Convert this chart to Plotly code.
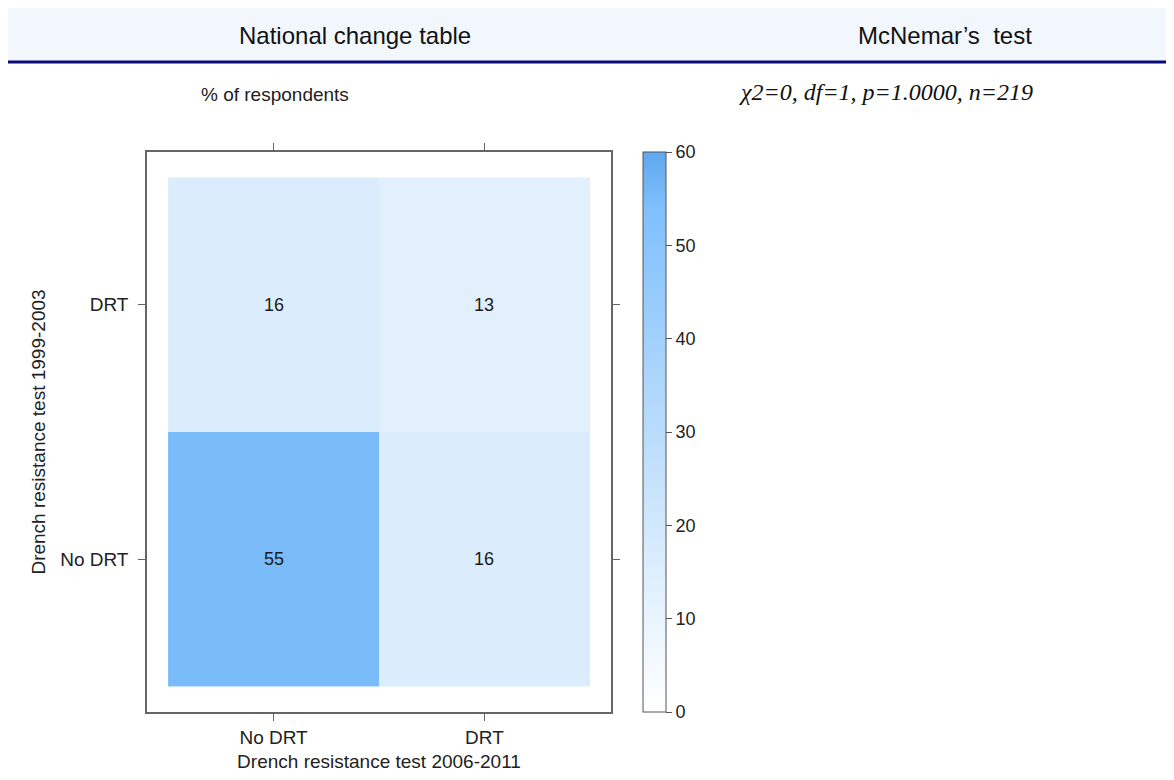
import plotly.graph_objects as go

# ---- data ----
x_categories = ["No DRT", "DRT"]          # Drench resistance test 2006-2011
y_categories = ["No DRT", "DRT"]          # Drench resistance test 1999-2003
pct_values = [[55, 16],                    # row: No DRT (1999-2003)
              [16, 13]]                    # row: DRT (1999-2003)
colorbar_ticks = [0, 10, 20, 30, 40, 50, 60]
header_left = "National change table"
header_right = "McNemar’s  test"
subtitle = "% of respondents"
stats_text = "χ2=0, df=1, p=1.0000, n=219"
x_title = "Drench resistance test 2006-2011"
y_title = "Drench resistance test 1999-2003"

# page has an 8px body margin, so the figure is sized to fit the window
OFF = 8
W, H = 1174 - 2 * OFF, 780 - 2 * OFF
# plot area in page pixels
PL, PR, PT, PB = 147, 611, 152, 712
L, R, T, B = PL - OFF, PR - OFF, PT - OFF, PB - OFF


def px(xp):
    return (xp - OFF - L) / (R - L)


def py(yp):
    return (B - (yp - OFF)) / (B - T)


FONT = "Liberation Sans, Arial, sans-serif"

fig = go.Figure()
fig.add_trace(go.Heatmap(
    z=pct_values, x=x_categories, y=y_categories,
    zmin=0, zmax=60,
    colorscale=[[0, "#FFFFFF"], [0.25, "#DDEEFD"], [0.9, "#80C0FC"], [1, "#5EA8EE"]],
    texttemplate="%{z}", textfont=dict(size=18, color="#1a1a1a", family=FONT),
    xgap=0, ygap=0, hoverinfo="skip",
    colorbar=dict(
        x=px(643), xanchor="left", xref="paper", xpad=0, ypad=0,
        y=py((PT + PB) / 2), yanchor="middle", len=PB - PT, lenmode="pixels",
        thickness=23, thicknessmode="pixels",
        outlinewidth=1, outlinecolor="#555",
        tickvals=colorbar_ticks, ticks="outside", ticklen=6, tickcolor="#555",
        tickfont=dict(size=18, color="#222", family=FONT),
    ),
))

axis_common = dict(
    showline=True, linecolor="#666", linewidth=1.5, mirror="ticks",
    ticks="outside", ticklen=7, tickcolor="#666", showgrid=False, zeroline=False,
    tickfont=dict(size=19, color="#222", family=FONT),
    range=[-0.6, 1.6], fixedrange=True,
)
fig.update_xaxes(type="category", categoryorder="array", categoryarray=x_categories,
                 ticklabelstandoff=0,
                 title=dict(text=x_title, standoff=14,
                            font=dict(size=19, color="#222", family=FONT)),
                 **axis_common)
fig.update_yaxes(type="category", categoryorder="array", categoryarray=y_categories,
                 ticklabelstandoff=6,
                 title=dict(text=y_title, standoff=10,
                            font=dict(size=19, color="#222", family=FONT)),
                 **axis_common)

shapes = [
    dict(type="rect", xref="paper", yref="paper", x0=px(0), x1=px(1174), y0=py(4), y1=py(62),
         fillcolor="#F2F7FE", line=dict(width=0), layer="below"),
    dict(type="line", xref="paper", yref="paper", x0=px(0), x1=px(1174), y0=py(4), y1=py(4),
         line=dict(color="#0A0A7A", width=3)),
    dict(type="line", xref="paper", yref="paper", x0=px(0), x1=px(1174), y0=py(62), y1=py(62),
         line=dict(color="#0A0A7A", width=3)),
]

annotations = [
    dict(text=header_left, x=px(355), y=py(35), xref="paper", yref="paper",
         showarrow=False, xanchor="center", yanchor="middle",
         font=dict(size=24, color="#111", family=FONT)),
    dict(text=header_right, x=px(856), y=py(35), xref="paper", yref="paper",
         showarrow=False, xanchor="left", yanchor="middle",
         font=dict(size=24, color="#111", family=FONT)),
    dict(text=subtitle, x=px(275), y=py(95), xref="paper", yref="paper",
         showarrow=False, xanchor="center", yanchor="middle",
         font=dict(size=19, color="#222", family=FONT)),
    dict(text="<i>" + stats_text + "</i>", x=px(737), y=py(92), xref="paper", yref="paper",
         showarrow=False, xanchor="left", yanchor="middle",
         font=dict(size=24, color="#111", family="Liberation Serif, Times New Roman, serif")),
]

fig.update_layout(
    width=W, height=H,
    margin=dict(l=L, r=W - R, t=T, b=H - B, autoexpand=False),
    paper_bgcolor="white", plot_bgcolor="white",
    shapes=shapes, annotations=annotations,
    showlegend=False,
)

fig.write_html("out.html")
